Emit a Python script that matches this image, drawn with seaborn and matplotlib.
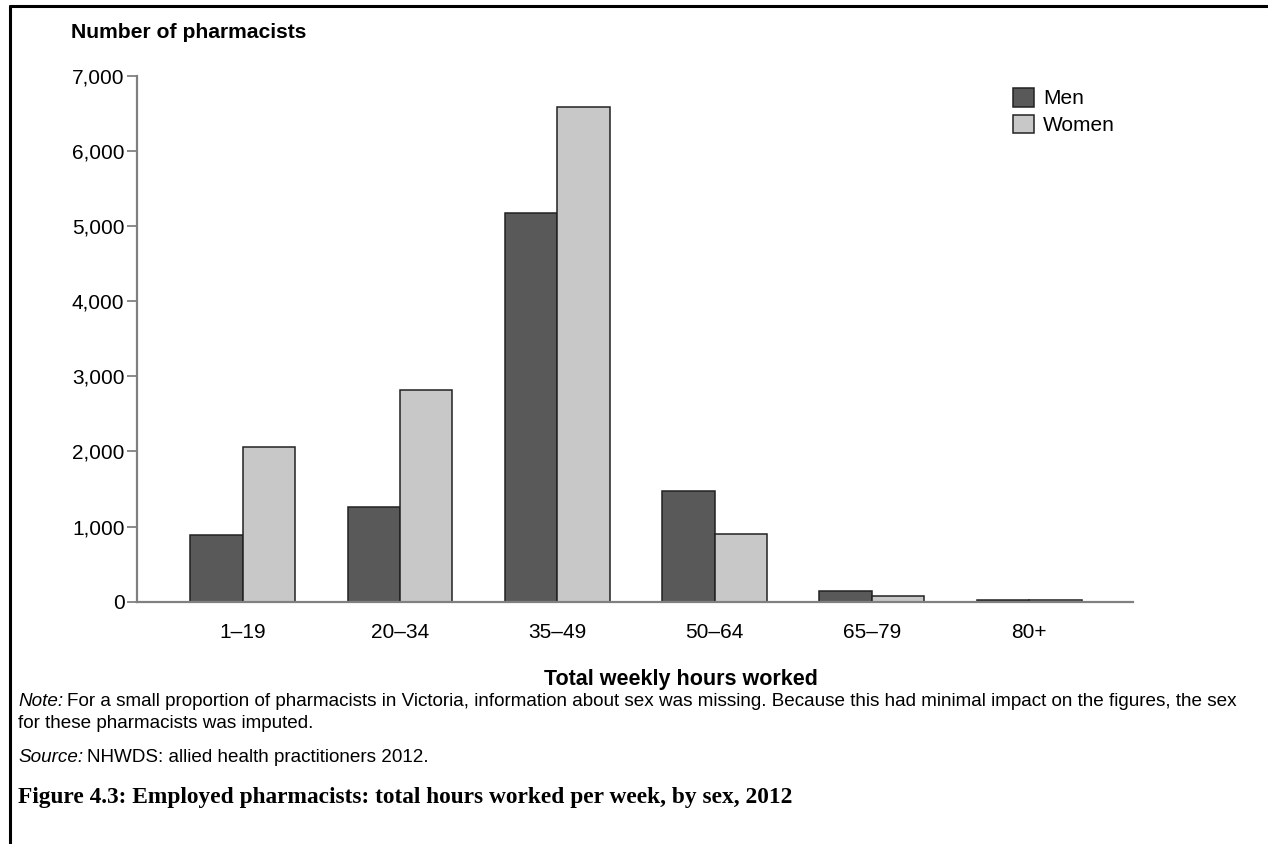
import pandas as pd
import matplotlib
matplotlib.use("Agg")
import matplotlib.pyplot as plt
from matplotlib.lines import Line2D
from matplotlib.ticker import FuncFormatter
import seaborn as sns

# Data
hours = ["1\u201319", "20\u201334", "35\u201349", "50\u201364", "65\u201379", "80+"]
men = [885, 1259, 5177, 1469, 142, 28]
women = [2063, 2817, 6588, 905, 72, 16]

df = pd.DataFrame({
    "hours": hours * 2,
    "count": men + women,
    "sex": ["Men"] * len(hours) + ["Women"] * len(hours),
})

sns.set_style("white")
plt.rcParams["font.family"] = ["Liberation Sans", "DejaVu Sans"]
plt.rcParams["text.color"] = "black"
plt.rcParams["xtick.color"] = "black"
plt.rcParams["ytick.color"] = "black"
plt.rcParams["axes.labelcolor"] = "black"

W, H = 1268, 844
fig = plt.figure(figsize=(W / 100, H / 100), dpi=100)
ax = fig.add_axes([137 / W, 1 - 601.7 / H, (1133 - 137) / W, (601.7 - 75.7) / H])

sns.barplot(data=df, x="hours", y="count", hue="sex",
            palette={"Men": "#595959", "Women": "#c8c8c8"},
            width=0.667, edgecolor="#222222", linewidth=1.1, ax=ax)

ax.set_ylim(0, 7000)
ax.set_xlim(-0.672, 5.66)
ax.set_yticks(range(0, 7001, 1000))
ax.yaxis.set_major_formatter(FuncFormatter(lambda v, p: f"{int(v):,}"))
ax.tick_params(axis="y", left=True, length=7, width=1.2, color="#777777",
               labelsize=15, pad=2)
ax.tick_params(axis="x", bottom=False, labelsize=15, pad=12)
for s in ["top", "right"]:
    ax.spines[s].set_visible(False)
for s in ["left", "bottom"]:
    ax.spines[s].set_color("#808080")
    ax.spines[s].set_linewidth(1.6)
ax.set_xlabel("")
ax.set_ylabel("")

ax.legend(loc="upper left", bbox_to_anchor=(1013 / W, 1 - 88 / H),
          bbox_transform=fig.transFigure, frameon=False, fontsize=15,
          handlelength=1.0, handleheight=1.0, handletextpad=0.45,
          labelspacing=0.3, borderaxespad=0, borderpad=0)

fig.text(71 / W, 1 - 33 / H, "Number of pharmacists", fontsize=15.2,
         fontweight="bold", va="center", ha="left")
fig.text(681 / W, 1 - 679 / H, "Total weekly hours worked", fontsize=15.5,
         fontweight="bold", va="center", ha="center")

# notes with italic lead-ins
fig.canvas.draw()
renderer = fig.canvas.get_renderer()
NOTE_SIZE = 13.55


def lead_text(x, y, lead, rest):
    t = fig.text(x, y, lead, fontsize=NOTE_SIZE, style="italic", va="center", ha="left")
    bb = t.get_window_extent(renderer)
    fig.text((bb.x1 + 4) / W, y, rest, fontsize=NOTE_SIZE, va="center", ha="left")


lead_text(18 / W, 1 - 702 / H, "Note:",
          "For a small proportion of pharmacists in Victoria, information about sex was missing. "
          "Because this had minimal impact on the figures, the sex")
fig.text(18 / W, 1 - 724 / H, "for these pharmacists was imputed.", fontsize=NOTE_SIZE,
         va="center", ha="left")
lead_text(18 / W, 1 - 758 / H, "Source:", "NHWDS: allied health practitioners 2012.")

fig.text(18 / W, 1 - 797 / H,
         "Figure 4.3: Employed pharmacists: total hours worked per week, by sex, 2012",
         fontsize=16.8, fontweight="bold", family=["Liberation Serif"], va="center", ha="left")

# page frame lines
fig.add_artist(Line2D([10 / W, 1], [1 - 6 / H, 1 - 6 / H],
                      transform=fig.transFigure, color="black", linewidth=2.2))
fig.add_artist(Line2D([10 / W, 10 / W], [0, 1 - 6 / H],
                      transform=fig.transFigure, color="black", linewidth=2.2))

fig.savefig("out.png", dpi=100)
